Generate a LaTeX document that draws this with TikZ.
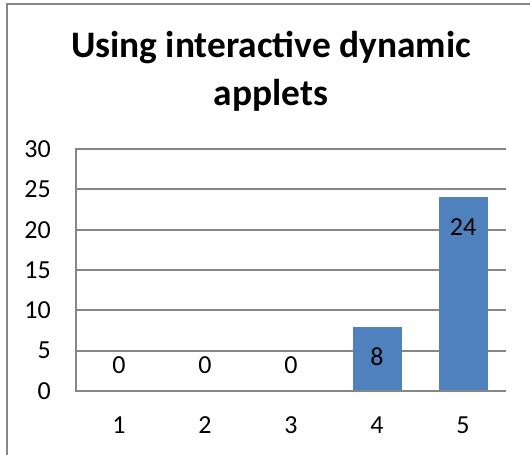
\documentclass[tikz,border=0pt]{standalone}
\usepackage{fontspec}
\setmainfont{Carlito}
\definecolor{gridgray}{HTML}{868686}
\definecolor{barblue}{HTML}{4F81BD}
\tikzset{
  gridline/.style={draw=gridgray, line width=2pt},
  frameline/.style={draw=gridgray, line width=2.2pt},
  bar/.style={fill=barblue, draw=none},
  lbl/.style={inner sep=0pt, font=\fontsize{26}{30}\selectfont, text=black},
  ylbl/.style={lbl, anchor=east},
  ttl/.style={inner sep=0pt, anchor=base, font=\fontsize{37.4}{44}\selectfont\bfseries}
}
\begin{document}
\begin{tikzpicture}[x=1pt,y=-1pt]
\useasboundingbox (0,0) rectangle (530,455);
% outer chart frame (right and bottom edges fall outside)
\draw[frameline] (7,460) -- (7,4) -- (535,4);
% title
\node[ttl] (t1) at (271,57) {Using interactive dynamic};
\node[ttl] (t2) at (271,105) {applets};
% gridlines and y labels
\foreach \v [count=\i from 0] in {0,5,10,15,20,25,30} {
  \pgfmathsetmacro{\yy}{391-40.333*\i}
  \draw[gridline] (76,\yy) -- (506,\yy);
  \node[ylbl] (y\v) at (51,\yy) {\v};
}
% vertical axis
\draw[gridline] (76,148) -- (76,392);
% bars
\fill[bar] (352.5,326.5) rectangle (401.5,390);
\fill[bar] (438.5,197.4) rectangle (487.5,390);
% data labels
\node[lbl] (d1) at (119,365) {0};
\node[lbl] (d2) at (205,365) {0};
\node[lbl] (d3) at (291,365) {0};
\node[lbl] (d4) at (377,356.5) {8};
\node[lbl] (d5) at (463,227.5) {24};
% category labels
\foreach \c in {1,...,5} {
  \node[lbl] (x\c) at ({76+86*(\c-0.5)},425) {\c};
}
\end{tikzpicture}
\end{document}
